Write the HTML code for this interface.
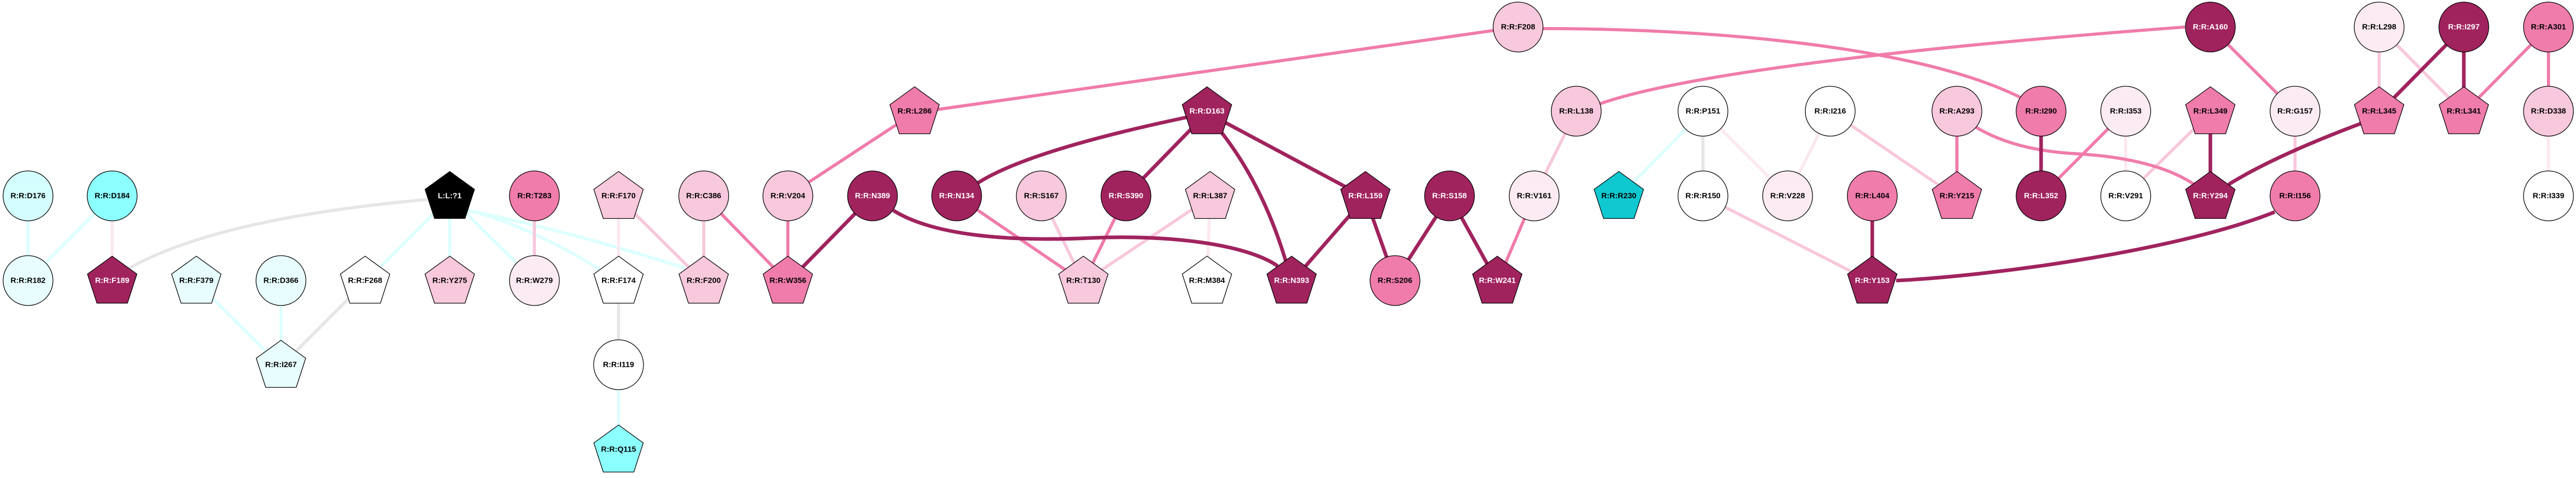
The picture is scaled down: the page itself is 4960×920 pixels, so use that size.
<!DOCTYPE html>
<html><head><meta charset="utf-8"><style>
html,body{margin:0;padding:0;background:#fff;}
svg{display:block;}
text{font-family:"Liberation Sans",Arial,sans-serif;font-weight:bold;font-size:15px;text-anchor:middle;dominant-baseline:central;}
</style></head><body>
<svg width="4960" height="920" viewBox="0 0 4960 920" xmlns="http://www.w3.org/2000/svg">
<defs>
<polygon id="pg" points="0,-50 47.6,-15.5 29.4,40.5 -29.4,40.5 -47.6,-15.5" stroke="#000" stroke-width="1.3"/>
</defs>
<g fill="none" stroke-linecap="butt">
<!-- cyan edges -->
<g stroke="#DDFFFF" stroke-width="6">
<line x1="54" y1="377" x2="54" y2="540"/>
<line x1="216" y1="377" x2="54" y2="540"/>
<line x1="378" y1="543" x2="541" y2="705"/>
<line x1="541" y1="540" x2="541" y2="705"/>
<line x1="866" y1="380" x2="703" y2="543"/>
<line x1="866" y1="380" x2="866" y2="543"/>
<line x1="866" y1="380" x2="1029" y2="540"/>
<path d="M899,405 Q1010,430 1156,519"/>
<path d="M899,405 Q1080,440 1319,516"/>
<line x1="1191" y1="702" x2="1191" y2="868"/>
<line x1="3279" y1="214" x2="3117" y2="380"/>
</g>
<!-- gray edges -->
<g stroke="#E6E6E6" stroke-width="6">
<path d="M249,516 Q420,420 823,384"/>
<line x1="703" y1="543" x2="541" y2="705"/>
<line x1="1191" y1="543" x2="1191" y2="702"/>
<line x1="3279" y1="214" x2="3279" y2="377"/>
</g>
<!-- very light pink -->
<g stroke="#FCE8F0" stroke-width="6">
<line x1="216" y1="377" x2="216" y2="540"/>
<line x1="1191" y1="380" x2="1191" y2="543"/>
<line x1="2330" y1="380" x2="2324" y2="543"/>
<line x1="3279" y1="214" x2="3442" y2="377"/>
<line x1="3524" y1="214" x2="3442" y2="377"/>
<line x1="4093" y1="214" x2="4093" y2="377"/>
<line x1="4907" y1="214" x2="4907" y2="377"/>
</g>
<!-- light pink -->
<g stroke="#F8C8DC" stroke-width="6">
<line x1="1029" y1="377" x2="1029" y2="540"/>
<line x1="1191" y1="380" x2="1355" y2="543"/>
<line x1="1355" y1="377" x2="1355" y2="543"/>
<line x1="2005" y1="377" x2="2086" y2="543"/>
<line x1="2330" y1="380" x2="2086" y2="543"/>
<line x1="3035" y1="214" x2="2954" y2="377"/>
<line x1="3524" y1="214" x2="3768" y2="380"/>
<line x1="3279" y1="377" x2="3605" y2="543"/>
<line x1="4256" y1="217" x2="4093" y2="377"/>
<line x1="4419" y1="214" x2="4419" y2="377"/>
<line x1="4581" y1="52" x2="4581" y2="217"/>
<line x1="4581" y1="52" x2="4744" y2="217"/>
</g>
<!-- mid pink -->
<g stroke="#F07CAB" stroke-width="6">
<line x1="1355" y1="377" x2="1517" y2="543"/>
<line x1="1517" y1="377" x2="1517" y2="543"/>
<line x1="1517" y1="377" x2="1761" y2="217"/>
<line x1="1761" y1="217" x2="2923" y2="52"/>
<line x1="1842" y1="377" x2="2086" y2="543"/>
<line x1="2168" y1="377" x2="2086" y2="543"/>
<line x1="2954" y1="377" x2="2883" y2="543"/>
<path d="M2970,55 C3300,55 3700,90 3895,190"/>
<path d="M3080,200 C3250,140 3700,90 4207,52"/>
<line x1="4256" y1="52" x2="4419" y2="214"/>
<line x1="3768" y1="214" x2="3768" y2="380"/>
<path d="M3805,245 Q3880,290 4000,296 Q4150,305 4225,355"/>
<line x1="3930" y1="377" x2="4093" y2="214"/>
<line x1="4907" y1="52" x2="4744" y2="217"/>
<line x1="4907" y1="52" x2="4907" y2="214"/>
</g>
<!-- dark -->
<g stroke="#A0235E" stroke-width="7">
<line x1="1680" y1="377" x2="1517" y2="543"/>
<path d="M1720,405 C1800,455 1950,465 2100,458 S2400,470 2460,512"/>
<path d="M1883,352 Q1980,290 2284,226"/>
<line x1="2324" y1="217" x2="2168" y2="377"/>
<path d="M2340,240 Q2440,360 2487,543"/>
<line x1="2324" y1="217" x2="2629" y2="380"/>
<line x1="2629" y1="380" x2="2487" y2="543"/>
<line x1="2629" y1="380" x2="2686" y2="540"/>
<line x1="2791" y1="377" x2="2686" y2="540"/>
<line x1="2791" y1="377" x2="2883" y2="543"/>
<line x1="3605" y1="377" x2="3605" y2="543"/>
<line x1="3930" y1="214" x2="3930" y2="377"/>
<path d="M3651,540 C3850,530 4200,480 4380,408"/>
<line x1="4256" y1="217" x2="4256" y2="380"/>
<path d="M4291,355 Q4380,300 4545,238"/>
<line x1="4744" y1="52" x2="4581" y2="217"/>
<line x1="4744" y1="52" x2="4744" y2="217"/>
</g>
</g>

<g stroke="#000" stroke-width="1.3">
<circle cx="54" cy="377" r="48" fill="#D4FEFE"/>
<circle cx="54" cy="540" r="48" fill="#E8FEFE"/>
<circle cx="216" cy="377" r="48" fill="#8CFFFF"/>
<use href="#pg" x="216" y="543" fill="#A0235E"/>
<use href="#pg" x="378" y="543" fill="#E8FEFE"/>
<circle cx="541" cy="540" r="48" fill="#E8FEFE"/>
<use href="#pg" x="541" y="705" fill="#E8FEFE"/>
<use href="#pg" x="703" y="543" fill="#FFFFFF"/>
<use href="#pg" x="866" y="380" fill="#000000"/>
<use href="#pg" x="866" y="543" fill="#F8C8DC"/>
<circle cx="1029" cy="377" r="48" fill="#F07CAB"/>
<circle cx="1029" cy="540" r="48" fill="#FCEBF2"/>
<use href="#pg" x="1191" y="380" fill="#F8C8DC"/>
<use href="#pg" x="1191" y="543" fill="#FFFFFF"/>
<circle cx="1191" cy="702" r="48" fill="#FFFFFF"/>
<use href="#pg" x="1191" y="868" fill="#8CFFFF"/>
<circle cx="1355" cy="377" r="48" fill="#F8C8DC"/>
<use href="#pg" x="1355" y="543" fill="#F8C8DC"/>
<circle cx="1517" cy="377" r="48" fill="#F8C8DC"/>
<use href="#pg" x="1517" y="543" fill="#F07CAB"/>
<use href="#pg" x="1761" y="217" fill="#F07CAB"/>
<circle cx="1680" cy="377" r="48" fill="#A0235E"/>
<circle cx="1842" cy="377" r="48" fill="#A0235E"/>
<circle cx="2005" cy="377" r="48" fill="#F8C8DC"/>
<use href="#pg" x="2086" y="543" fill="#F8C8DC"/>
<circle cx="2168" cy="377" r="48" fill="#A0235E"/>
<use href="#pg" x="2330" y="380" fill="#F8C8DC"/>
<use href="#pg" x="2324" y="543" fill="#FFFFFF"/>
<use href="#pg" x="2324" y="217" fill="#A0235E"/>
<use href="#pg" x="2487" y="543" fill="#A0235E"/>
<use href="#pg" x="2629" y="380" fill="#A0235E"/>
<circle cx="2686" cy="540" r="48" fill="#F07CAB"/>
<circle cx="2791" cy="377" r="48" fill="#A0235E"/>
<use href="#pg" x="2883" y="543" fill="#A0235E"/>
<circle cx="2954" cy="377" r="48" fill="#FCEBF2"/>
<circle cx="2923" cy="52" r="48" fill="#F8C8DC"/>
<circle cx="3035" cy="214" r="48" fill="#F8C8DC"/>
<use href="#pg" x="3117" y="380" fill="#10C8D0"/>
<circle cx="3279" cy="214" r="48" fill="#FFFFFF"/>
<circle cx="3279" cy="377" r="48" fill="#FFFFFF"/>
<circle cx="3442" cy="377" r="48" fill="#FCEBF2"/>
<circle cx="3524" cy="214" r="48" fill="#FFFFFF"/>
<circle cx="3605" cy="377" r="48" fill="#F07CAB"/>
<use href="#pg" x="3605" y="543" fill="#A0235E"/>
<circle cx="3768" cy="214" r="48" fill="#F8C8DC"/>
<use href="#pg" x="3768" y="380" fill="#F07CAB"/>
<circle cx="3930" cy="214" r="48" fill="#F07CAB"/>
<circle cx="3930" cy="377" r="48" fill="#A0235E"/>
<circle cx="4093" cy="214" r="48" fill="#FCEBF2"/>
<circle cx="4093" cy="377" r="48" fill="#FFFFFF"/>
<use href="#pg" x="4256" y="217" fill="#F07CAB"/>
<use href="#pg" x="4256" y="380" fill="#A0235E"/>
<circle cx="4256" cy="52" r="48" fill="#A0235E"/>
<circle cx="4419" cy="214" r="48" fill="#FCEBF2"/>
<circle cx="4419" cy="377" r="48" fill="#F07CAB"/>
<circle cx="4581" cy="52" r="48" fill="#FCEBF2"/>
<use href="#pg" x="4581" y="217" fill="#F07CAB"/>
<circle cx="4744" cy="52" r="48" fill="#A0235E"/>
<use href="#pg" x="4744" y="217" fill="#F07CAB"/>
<circle cx="4907" cy="52" r="48" fill="#F07CAB"/>
<circle cx="4907" cy="214" r="48" fill="#F8C8DC"/>
<circle cx="4907" cy="377" r="48" fill="#FFFFFF"/>
</g>

<g fill="#000">
<text x="54" y="377">R:R:D176</text>
<text x="54" y="540">R:R:R182</text>
<text x="216" y="377">R:R:D184</text>
<text x="378" y="540">R:R:F379</text>
<text x="541" y="540">R:R:D366</text>
<text x="541" y="702">R:R:I267</text>
<text x="703" y="540">R:R:F268</text>
<text x="866" y="540">R:R:Y275</text>
<text x="1029" y="377">R:R:T283</text>
<text x="1029" y="540">R:R:W279</text>
<text x="1191" y="377">R:R:F170</text>
<text x="1191" y="540">R:R:F174</text>
<text x="1191" y="702">R:R:I119</text>
<text x="1191" y="865">R:R:Q115</text>
<text x="1355" y="377">R:R:C386</text>
<text x="1355" y="540">R:R:F200</text>
<text x="1517" y="377">R:R:V204</text>
<text x="1517" y="540">R:R:W356</text>
<text x="1761" y="214">R:R:L286</text>
<text x="2005" y="377">R:R:S167</text>
<text x="2086" y="540">R:R:T130</text>
<text x="2330" y="377">R:R:L387</text>
<text x="2324" y="540">R:R:M384</text>
<text x="2686" y="540">R:R:S206</text>
<text x="2954" y="377">R:R:V161</text>
<text x="2923" y="52">R:R:F208</text>
<text x="3035" y="214">R:R:L138</text>
<text x="3117" y="377">R:R:R230</text>
<text x="3279" y="214">R:R:P151</text>
<text x="3279" y="377">R:R:R150</text>
<text x="3442" y="377">R:R:V228</text>
<text x="3524" y="214">R:R:I216</text>
<text x="3605" y="377">R:R:L404</text>
<text x="3768" y="214">R:R:A293</text>
<text x="3768" y="377">R:R:Y215</text>
<text x="3930" y="214">R:R:I290</text>
<text x="4093" y="214">R:R:I353</text>
<text x="4093" y="377">R:R:V291</text>
<text x="4256" y="214">R:R:L349</text>
<text x="4419" y="214">R:R:G157</text>
<text x="4419" y="377">R:R:I156</text>
<text x="4581" y="52">R:R:L298</text>
<text x="4581" y="214">R:R:L345</text>
<text x="4744" y="214">R:R:L341</text>
<text x="4907" y="52">R:R:A301</text>
<text x="4907" y="214">R:R:D338</text>
<text x="4907" y="377">R:R:I339</text>
</g>
<g fill="#fff">
<text x="216" y="540">R:R:F189</text>
<text x="866" y="377">L:L:?1</text>
<text x="1680" y="377">R:R:N389</text>
<text x="1842" y="377">R:R:N134</text>
<text x="2168" y="377">R:R:S390</text>
<text x="2324" y="214">R:R:D163</text>
<text x="2487" y="540">R:R:N393</text>
<text x="2629" y="377">R:R:L159</text>
<text x="2791" y="377">R:R:S158</text>
<text x="2883" y="540">R:R:W241</text>
<text x="3605" y="540">R:R:Y153</text>
<text x="3930" y="377">R:R:L352</text>
<text x="4256" y="377">R:R:Y294</text>
<text x="4256" y="52">R:R:A160</text>
<text x="4744" y="52">R:R:I297</text>
</g>
</svg>
</body></html>
